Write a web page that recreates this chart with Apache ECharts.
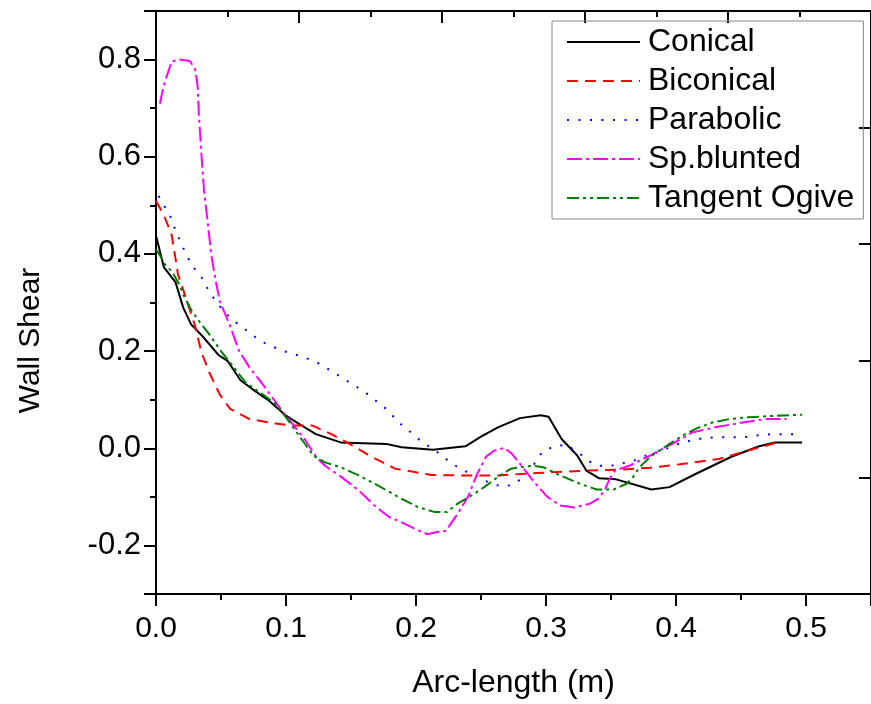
<!DOCTYPE html>
<html><head><meta charset="utf-8">
<script src="https://cdn.jsdelivr.net/npm/echarts@6/dist/echarts.min.js"></script>
<style>html,body{margin:0;padding:0;background:#fff}#c{width:871px;height:704px}</style>
</head><body><div id="c"></div>
<script>
const seriesNames = ['Conical', 'Biconical', 'Parabolic', 'Sp.blunted', 'Tangent Ogive'];
const xTickLabels = ['0.0', '0.1', '0.2', '0.3', '0.4', '0.5'];
const yTickLabels = ['-0.2', '0.0', '0.2', '0.4', '0.6', '0.8'];

const conical = [[0,0.437],[0.001,0.427],[0.006,0.373],[0.015,0.342],[0.021,0.289],[0.027,0.255],[0.036,0.23],[0.048,0.192],[0.055,0.18],[0.065,0.14],[0.076,0.118],[0.087,0.098],[0.1,0.067],[0.11,0.05],[0.123,0.029],[0.142,0.012],[0.177,0.009],[0.189,0.002],[0.213,-0.003],[0.238,0.004],[0.25,0.024],[0.263,0.043],[0.28,0.062],[0.296,0.068],[0.302,0.065],[0.312,0.019],[0.324,-0.015],[0.331,-0.046],[0.341,-0.062],[0.354,-0.064],[0.381,-0.085],[0.395,-0.08],[0.415,-0.053],[0.443,-0.017],[0.464,0.004],[0.476,0.012],[0.497,0.012]];
const biconical = [[0,0.509],[0.006,0.48],[0.012,0.44],[0.017,0.357],[0.023,0.31],[0.03,0.252],[0.035,0.197],[0.041,0.156],[0.049,0.111],[0.057,0.081],[0.072,0.06],[0.092,0.051],[0.104,0.047],[0.12,0.047],[0.135,0.029],[0.151,0.006],[0.166,-0.018],[0.184,-0.042],[0.212,-0.055],[0.237,-0.056],[0.263,-0.056],[0.293,-0.051],[0.331,-0.046],[0.357,-0.044],[0.38,-0.04],[0.403,-0.033],[0.433,-0.022],[0.451,-0.008],[0.469,0.005],[0.478,0.012]];
const parabolic = [[0.002,0.519],[0.007,0.496],[0.012,0.472],[0.015,0.448],[0.019,0.424],[0.023,0.4],[0.028,0.375],[0.035,0.352],[0.04,0.327],[0.046,0.302],[0.053,0.279],[0.062,0.258],[0.071,0.24],[0.08,0.221],[0.089,0.21],[0.098,0.2],[0.107,0.193],[0.116,0.185],[0.125,0.175],[0.142,0.147],[0.151,0.132],[0.161,0.115],[0.169,0.098],[0.178,0.079],[0.186,0.055],[0.195,0.035],[0.204,0.014],[0.213,-0.001],[0.222,-0.02],[0.231,-0.037],[0.24,-0.05],[0.249,-0.063],[0.258,-0.072],[0.266,-0.079],[0.275,-0.075],[0.284,-0.056],[0.291,-0.032],[0.297,-0.008],[0.306,0.004],[0.315,0.007],[0.324,-0.007],[0.333,-0.027],[0.342,-0.036],[0.35,-0.036],[0.359,-0.031],[0.368,-0.025],[0.377,-0.015],[0.386,-0.008],[0.395,0.002],[0.404,0.011],[0.413,0.017],[0.422,0.021],[0.432,0.0225],[0.441,0.0225],[0.45,0.0225],[0.459,0.025],[0.467,0.028],[0.476,0.029],[0.494,0.029]];
const spBlunted = [[0.003,0.709],[0.006,0.747],[0.012,0.796],[0.018,0.8],[0.026,0.797],[0.03,0.781],[0.032,0.747],[0.033,0.685],[0.035,0.603],[0.037,0.528],[0.04,0.46],[0.0425,0.398],[0.046,0.344],[0.049,0.303],[0.0565,0.255],[0.064,0.2],[0.072,0.166],[0.082,0.132],[0.095,0.084],[0.105,0.05],[0.115,0.016],[0.123,-0.017],[0.13,-0.036],[0.143,-0.06],[0.156,-0.087],[0.168,-0.118],[0.179,-0.141],[0.191,-0.155],[0.2015,-0.169],[0.209,-0.177],[0.217,-0.172],[0.223,-0.17],[0.232,-0.135],[0.24,-0.1],[0.247,-0.053],[0.254,-0.017],[0.26,-0.005],[0.268,0.001],[0.274,-0.012],[0.282,-0.039],[0.291,-0.07],[0.301,-0.1],[0.311,-0.118],[0.322,-0.122],[0.334,-0.114],[0.34,-0.104],[0.345,-0.087],[0.349,-0.063],[0.353,-0.046],[0.364,-0.036],[0.38,-0.015],[0.397,0.009],[0.413,0.033],[0.43,0.043],[0.451,0.053],[0.469,0.06],[0.485,0.06]];
const tangentOgive = [[0,0.409],[0.003,0.397],[0.007,0.378],[0.0125,0.363],[0.018,0.337],[0.021,0.316],[0.027,0.285],[0.0336,0.26],[0.04,0.238],[0.05,0.2],[0.058,0.173],[0.062,0.159],[0.069,0.135],[0.082,0.111],[0.092,0.091],[0.101,0.06],[0.11,0.026],[0.121,-0.015],[0.13,-0.029],[0.143,-0.04],[0.156,-0.056],[0.171,-0.077],[0.186,-0.1],[0.2015,-0.121],[0.214,-0.131],[0.224,-0.131],[0.232,-0.114],[0.241,-0.1],[0.2525,-0.08],[0.263,-0.059],[0.273,-0.042],[0.283,-0.038],[0.29,-0.036],[0.298,-0.039],[0.311,-0.056],[0.324,-0.071],[0.339,-0.085],[0.352,-0.085],[0.362,-0.073],[0.367,-0.059],[0.372,-0.039],[0.38,-0.018],[0.395,0.009],[0.405,0.026],[0.415,0.04],[0.428,0.053],[0.441,0.06],[0.456,0.064],[0.471,0.066],[0.497,0.069]];

const FONT = "'Liberation Sans', Arial, sans-serif";
const colors = ['#000000', '#ff0000', '#0000ff', '#ff00ff', '#008000'];
const dashes = ['solid', [11, 7], [2, 9.5], [15, 4, 3, 4], [12, 4, 3, 4, 3, 4]];
const datasets = [conical, biconical, parabolic, spBlunted, tangentOgive];

const axisLineStyle = { color: '#000', width: 2 };
const tickStyle = { color: '#000', width: 2 };

const chart = echarts.init(document.getElementById('c'), null, { renderer: 'canvas' });
chart.setOption({
  animation: false,
  backgroundColor: '#fff',
  grid: { left: 156, top: 11, width: 720.5, height: 586.5, containLabel: false },
  legend: {
    orient: 'vertical', left: 552, top: 21,
    padding: [4, 9, 4, 14],
    itemWidth: 73, itemHeight: 14, itemGap: 5,
    borderColor: '#888', borderWidth: 1,
    itemStyle: { opacity: 0 },
    textStyle: { fontSize: 32, lineHeight: 34, color: '#000', fontFamily: FONT, padding: [0, 0, 0, 3] },
    data: seriesNames
  },
  xAxis: [
    {
      type: 'value', position: 'bottom', min: 0, max: 0.55, interval: 0.1,
      axisLine: { onZero: false, lineStyle: axisLineStyle },
      axisTick: { length: 12, lineStyle: tickStyle },
      minorTick: { show: true, splitNumber: 2, length: 6, lineStyle: tickStyle },
      splitLine: { show: false },
      axisLabel: {
        showMaxLabel: false, margin: 20, fontSize: 30, color: '#000', fontFamily: FONT,
        formatter: v => { const s = v.toFixed(1); return xTickLabels.includes(s) && Math.abs(v * 10 - Math.round(v * 10)) < 1e-6 ? s : ''; }
      },
      name: 'Arc-length (m)', nameLocation: 'middle', nameGap: 73,
      nameTextStyle: { fontSize: 32, color: '#000', fontFamily: FONT }
    },
    {
      type: 'value', position: 'top', min: 0, max: 5, interval: 1,
      axisLine: { onZero: false, lineStyle: axisLineStyle },
      axisTick: { inside: true, length: 12, lineStyle: tickStyle },
      minorTick: { show: true, splitNumber: 2, length: 6, lineStyle: tickStyle },
      splitLine: { show: false }, axisLabel: { show: false }
    }
  ],
  yAxis: [
    {
      type: 'value', position: 'left', min: -0.3, max: 0.9, splitNumber: 6,
      axisLine: { onZero: false, lineStyle: axisLineStyle },
      axisTick: { length: 12, lineStyle: tickStyle },
      minorTick: { show: true, splitNumber: 2, length: 6, lineStyle: tickStyle },
      splitLine: { show: false },
      axisLabel: {
        margin: 15, fontSize: 31, color: '#000', fontFamily: FONT,
        formatter: v => { const s = (Math.abs(v) < 1e-9 ? 0 : v).toFixed(1); return yTickLabels.includes(s) && Math.abs(v * 5 - Math.round(v * 5)) < 1e-6 ? s : ''; }
      },
      name: 'Wall Shear', nameLocation: 'middle', nameGap: 110,
      nameTextStyle: { fontSize: 30, color: '#000', fontFamily: FONT, padding: [0, 76, 0, 0] }
    },
    {
      type: 'value', position: 'right', min: 0, max: 5, interval: 1,
      axisLine: { onZero: false, lineStyle: axisLineStyle },
      axisTick: { inside: true, length: 12, lineStyle: tickStyle },
      splitLine: { show: false }, axisLabel: { show: false }
    }
  ],
  series: seriesNames.map((name, i) => ({
    name, type: 'line', xAxisIndex: 0, yAxisIndex: 0,
    data: datasets[i], symbol: 'none', showSymbol: false,
    lineStyle: { color: colors[i], width: 2, type: dashes[i] },
    itemStyle: { color: colors[i] }
  }))
});
</script></body></html>
